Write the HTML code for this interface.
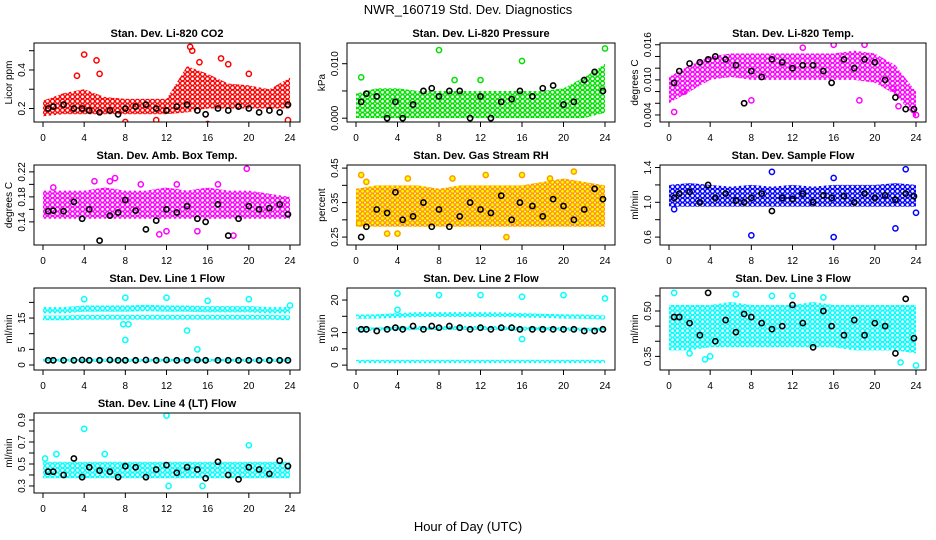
<!DOCTYPE html>
<html><head><meta charset="utf-8"><style>
html,body{margin:0;padding:0;background:#fff}
svg{display:block;font-family:"Liberation Sans",sans-serif}
</style></head><body>
<svg id="chart" width="936" height="540" viewBox="0 0 936 540">
<defs id="defs"></defs>
<text x="468" y="14" font-size="13" text-anchor="middle">NWR_160719  Std. Dev. Diagnostics</text>
<text x="468" y="531" font-size="13" text-anchor="middle">Hour of Day (UTC)</text>
</svg>
<script>
const blackHours=[0.5,1,2,3,3.8,4.5,5.5,6.5,7.3,8,9,10,11,12,13,14,15,15.8,17,18,19,20,21,22,23,23.8];
const bandHours=[0,2,4,6,8,10,12,14,16,18,20,22,24];
const xTicks=[0,4,8,12,16,20,24];

// CO2
const co2Lo=[0.16,0.17,0.17,0.17,0.17,0.17,0.17,0.18,0.2,0.2,0.2,0.2,0.2];
const co2Hi=[0.24,0.28,0.30,0.26,0.25,0.25,0.25,0.42,0.38,0.33,0.32,0.30,0.36];
const co2OutX=[2.7,3.3,4,5.2,5.5,8,11,14,14.3,14.5,15.2,16,17.3,18,20,23.6,23.8];
const co2OutY=[0.58,0.37,0.48,0.45,0.38,0.13,0.14,0.58,0.52,0.5,0.44,0.12,0.46,0.43,0.38,0.56,0.14];
const co2Black=[0.2,0.21,0.22,0.2,0.2,0.19,0.18,0.19,0.17,0.2,0.21,0.22,0.2,0.19,0.21,0.22,0.19,0.17,0.2,0.19,0.21,0.2,0.18,0.19,0.18,0.22];
// Pressure
const prLo=[0,0,0,0,0,0,0,0,0,0,0,0,0.001];
const prHi=[0.0045,0.0055,0.0055,0.005,0.005,0.005,0.005,0.005,0.005,0.005,0.0055,0.0075,0.010];
const prOutX=[8,16,24,0.5,9.5,12];
const prOutY=[0.0125,0.0105,0.0128,0.0075,0.007,0.007];
const prBlack=[0.003,0.0045,0.004,0,0.003,0,0.0025,0.005,0.0055,0.004,0.005,0.005,0,0.004,0,0.003,0.0035,0.005,0.004,0.0055,0.006,0.0025,0.003,0.007,0.0085,0.005];
// Temp
const tLo=[0.006,0.008,0.010,0.0105,0.010,0.010,0.010,0.010,0.010,0.010,0.0095,0.0075,0.0035];
const tHi=[0.0105,0.0125,0.014,0.0145,0.0145,0.0145,0.0145,0.0145,0.0145,0.015,0.0145,0.0125,0.008];
const tOutX=[0.5,1.5,7.3,8,13,16,18.5,19,21.8,22.3,24];
const tOutY=[0.0045,0.008,0.006,0.0065,0.0155,0.016,0.0065,0.016,0.0085,0.0055,0.004];
const tBlack=[0.0095,0.0115,0.0128,0.013,0.0135,0.014,0.0135,0.0125,0.006,0.0115,0.0105,0.0135,0.013,0.012,0.0125,0.0125,0.0115,0.0095,0.0135,0.012,0.0135,0.013,0.01,0.007,0.005,0.005];
// Amb box
const abLo=[0.145,0.145,0.145,0.145,0.145,0.145,0.145,0.145,0.145,0.145,0.145,0.145,0.145];
const abHi=[0.19,0.19,0.19,0.195,0.19,0.19,0.195,0.19,0.195,0.19,0.19,0.185,0.18];
const abOutX=[5,6.5,7,9.5,11.3,13,15,17,19.8,1,12,18.5];
const abOutY=[0.205,0.205,0.21,0.2,0.12,0.2,0.125,0.2,0.225,0.195,0.125,0.118];
const abBlack=[0.157,0.158,0.157,0.172,0.145,0.16,0.11,0.15,0.155,0.175,0.158,0.128,0.142,0.16,0.155,0.165,0.145,0.14,0.168,0.118,0.145,0.165,0.16,0.162,0.168,0.152];
// RH
const rhLo=[0.28,0.28,0.28,0.28,0.28,0.28,0.28,0.28,0.28,0.28,0.28,0.28,0.28];
const rhHi=[0.39,0.40,0.40,0.40,0.39,0.40,0.40,0.40,0.40,0.41,0.42,0.41,0.40];
const rhOutX=[0.5,1,4,5,9.3,12.5,14.5,16,18.7,21,0.3,3];
const rhOutY=[0.43,0.41,0.26,0.42,0.42,0.43,0.25,0.43,0.42,0.44,0.29,0.26];
const rhBlack=[0.25,0.28,0.33,0.32,0.38,0.3,0.31,0.35,0.28,0.33,0.28,0.31,0.35,0.33,0.32,0.37,0.3,0.35,0.34,0.31,0.36,0.34,0.3,0.33,0.39,0.36];
// Sample flow
const sfLo=[0.95,0.95,0.95,0.95,0.95,0.95,0.95,0.95,0.95,0.95,0.95,0.95,0.95];
const sfHi=[1.2,1.22,1.2,1.18,1.2,1.18,1.2,1.18,1.2,1.2,1.2,1.22,1.2];
const sfOutX=[8,10,16,22,23,24,0.5,16];
const sfOutY=[0.62,1.35,0.6,0.7,1.38,0.88,0.92,1.28];
const sfBlack=[1.05,1.1,1.12,1.0,1.2,1.05,1.1,1.02,1.0,1.05,1.1,0.9,1.05,1.04,1.1,1.0,1.08,1.05,1.07,1.0,1.1,1.05,1.08,1.03,1.1,1.07];
// Line 1
const l1UpLo=[16.5,16.5,17,17,17,17.2,17,17,16.8,16.8,16.8,16.5,16.5];
const l1UpHi=[18.5,18.5,19,19,19,19.2,19,19,18.8,18.8,18.8,18.5,18.5];
const l1MidLo=[14.3,14.3,14.5,14.5,14.5,14.5,14.5,14.5,14.5,14.5,14.5,14.5,14.3];
const l1MidHi=[15.8,15.8,16,16,16,16,16,16,16,16,16,16,15.8];
const l1BotLo=[1,1,1,1,1,1,1,1,1,1,1,1,1];
const l1BotHi=[2,2,2,2,2,2,2,2,2,2,2,2,2];
const l1OutX=[4,8,12,16,20,24,8,8.3,14,15,7.8];
const l1OutY=[21,21.5,21.5,20.5,21,19,8,13,11,5,13];
const l1Black=[1.5,1.5,1.5,1.5,1.6,1.5,1.5,1.6,1.5,1.5,1.5,1.6,1.5,1.6,1.5,1.5,1.6,1.5,1.5,1.5,1.5,1.5,1.5,1.5,1.5,1.5];
// Line 2
const l2UpLo=[14.2,14.3,14.5,14.8,14.8,14.8,14.8,14.8,14.6,14.5,14.3,14.2,14];
const l2UpHi=[15.5,15.6,16,16.3,16.3,16.3,16.3,16.2,16,15.8,15.6,15.5,15.3];
const l2MidLo=[10.5,10.5,10.6,10.8,10.8,10.8,10.8,10.8,10.6,10.6,10.5,10.4,10.4];
const l2MidHi=[11.6,11.6,11.8,12,12,12,12,12,11.8,11.8,11.6,11.5,11.5];
const l2BotLo=[0.6,0.6,0.6,0.6,0.6,0.6,0.6,0.6,0.6,0.6,0.6,0.6,0.6];
const l2BotHi=[1.6,1.6,1.6,1.6,1.6,1.6,1.6,1.6,1.6,1.6,1.6,1.6,1.6];
const l2OutX=[4,8,12,16,20,24,16,4];
const l2OutY=[22,21.5,21.5,21,21.5,20.5,8,17];
const l2Black=[11,11,10.5,11,11.5,11,12,11,12,11.5,12,11.5,11,11.5,11,11.5,11.5,11,11,11,11,11,11,10.5,10.5,11];
// Line 3
const l3Lo=[0.37,0.37,0.38,0.38,0.38,0.38,0.38,0.38,0.38,0.37,0.37,0.37,0.36];
const l3Hi=[0.52,0.52,0.52,0.53,0.52,0.52,0.52,0.53,0.52,0.52,0.52,0.52,0.52];
const l3OutX=[0.5,3.5,4,6.5,12,15,16.5,16.8,22.5,24,2,10];
const l3OutY=[0.56,0.34,0.35,0.555,0.55,0.545,0.59,0.6,0.33,0.32,0.36,0.55];
const l3Black=[0.48,0.48,0.46,0.42,0.56,0.4,0.47,0.43,0.49,0.48,0.46,0.44,0.45,0.52,0.46,0.38,0.5,0.45,0.42,0.47,0.42,0.46,0.45,0.36,0.54,0.41];
// Line 4
const l4Lo=[0.37,0.37,0.37,0.37,0.37,0.37,0.37,0.37,0.37,0.37,0.37,0.37,0.37];
const l4Hi=[0.52,0.52,0.52,0.52,0.52,0.52,0.52,0.52,0.52,0.52,0.52,0.52,0.52];
const l4OutX=[4,12,20,1.3,6,15.5,12.2,0.2];
const l4OutY=[0.82,0.94,0.67,0.59,0.59,0.3,0.3,0.55];
const l4Black=[0.43,0.43,0.4,0.55,0.38,0.47,0.44,0.43,0.38,0.48,0.47,0.38,0.45,0.49,0.42,0.47,0.45,0.37,0.52,0.4,0.36,0.47,0.45,0.41,0.53,0.48];

const cols=[[34,300],[347,615],[660,926]];
const rows=[[43,122],[165,245],[288,370],[413,493]];
const panels=[
 {name:'co2',title:'Stan. Dev. Li-820 CO2',ylab:'Licor ppm',c:0,r:0,ymin:0.13,ymax:0.54,ticks:[0.2,0.3,0.4,0.5],labels:['0.2','','0.4',''],col:'#ff0000',fill:'none',bands:[[co2Lo,co2Hi]],ox:co2OutX,oy:co2OutY,blk:co2Black},
 {name:'pressure',title:'Stan. Dev. Li-820 Pressure',ylab:'kPa',c:1,r:0,ymin:-0.0007,ymax:0.0138,ticks:[0,0.005,0.010],labels:['0.000','','0.010'],col:'#00e000',fill:'none',bands:[[prLo,prHi]],ox:prOutX,oy:prOutY,blk:prBlack},
 {name:'temp',title:'Stan. Dev. Li-820 Temp.',ylab:'degrees C',c:2,r:0,ymin:0.0028,ymax:0.0163,ticks:[0.004,0.006,0.008,0.010,0.012,0.014,0.016],labels:['0.004','','','0.010','','','0.016'],col:'#ff00ff',fill:'none',bands:[[tLo,tHi]],ox:tOutX,oy:tOutY,blk:tBlack},
 {name:'amb-box',title:'Stan. Dev. Amb. Box Temp.',ylab:'degrees C',c:0,r:1,ymin:0.103,ymax:0.231,ticks:[0.14,0.16,0.18,0.20,0.22],labels:['0.14','','0.18','','0.22'],col:'#ff00ff',fill:'none',bands:[[abLo,abHi]],ox:abOutX,oy:abOutY,blk:abBlack},
 {name:'rh',title:'Stan. Dev. Gas Stream RH',ylab:'percent',c:1,r:1,ymin:0.227,ymax:0.459,ticks:[0.25,0.30,0.35,0.40,0.45],labels:['0.25','','0.35','','0.45'],col:'#ff9900',fill:'#ffff00',bands:[[rhLo,rhHi]],ox:rhOutX,oy:rhOutY,blk:rhBlack},
 {name:'sample-flow',title:'Stan. Dev. Sample Flow',ylab:'ml/min',c:2,r:1,ymin:0.509,ymax:1.429,ticks:[0.6,0.8,1.0,1.2,1.4],labels:['0.6','','1.0','','1.4'],col:'#0000ff',fill:'none',bands:[[sfLo,sfHi]],ox:sfOutX,oy:sfOutY,blk:sfBlack},
 {name:'line1',title:'Stan. Dev. Line 1 Flow',ylab:'ml/min',c:0,r:2,ymin:-1.6,ymax:24.6,ticks:[0,5,10,15,20],labels:['0','5','','15',''],col:'#00ffff',fill:'none',bands:[[l1UpLo,l1UpHi],[l1MidLo,l1MidHi],[l1BotLo,l1BotHi]],ox:l1OutX,oy:l1OutY,blk:l1Black},
 {name:'line2',title:'Stan. Dev. Line 2 Flow',ylab:'ml/min',c:1,r:2,ymin:-1.5,ymax:23.7,ticks:[0,5,10,15,20],labels:['0','5','10','','20'],col:'#00ffff',fill:'none',bands:[[l2UpLo,l2UpHi],[l2MidLo,l2MidHi],[l2BotLo,l2BotHi]],ox:l2OutX,oy:l2OutY,blk:l2Black},
 {name:'line3',title:'Stan. Dev. Line 3 Flow',ylab:'ml/min',c:2,r:2,ymin:0.305,ymax:0.576,ticks:[0.35,0.40,0.45,0.50,0.55],labels:['0.35','','','0.50',''],col:'#00ffff',fill:'none',bands:[[l3Lo,l3Hi]],ox:l3OutX,oy:l3OutY,blk:l3Black},
 {name:'line4',title:'Stan. Dev. Line 4 (LT) Flow',ylab:'ml/min',c:0,r:3,ymin:0.236,ymax:0.964,ticks:[0.3,0.4,0.5,0.6,0.7,0.8,0.9],labels:['0.3','','0.5','','0.7','','0.9'],col:'#00ffff',fill:'none',bands:[[l4Lo,l4Hi]],ox:l4OutX,oy:l4OutY,blk:l4Black}
];
const NS='http://www.w3.org/2000/svg';
const svg=document.getElementById('chart');
const defs=document.getElementById('defs');
function mk(tag,at,parent){const e=document.createElementNS(NS,tag);for(const k in at)e.setAttribute(k,at[k]);(parent||svg).appendChild(e);return e;}
panels.forEach((p,i)=>{
  const [x0,x1]=cols[p.c],[y0,y1]=rows[p.r];
  const sx=h=>x0+9+h*(x1-x0-19)/24;
  const sy=v=>y1-(v-p.ymin)/(p.ymax-p.ymin)*(y1-y0);
  const g=mk('g',{});
  
  
  const pid='pat'+i;
  const pat=mk('pattern',{id:pid,width:5,height:4.5,patternUnits:'userSpaceOnUse'},defs);
  mk('circle',{cx:2.5,cy:2.25,r:2,fill:p.fill,stroke:p.col,'stroke-width':1.3},pat);
  const clip=mk('clipPath',{id:'clip'+i},defs);
  mk('rect',{x:x0,y:y0,width:x1-x0,height:y1-y0},clip);
  const inner=mk('g',{'clip-path':'url(#clip'+i+')'},g);
  p.bands.forEach(([lo,hi])=>{
    let d='';
    bandHours.forEach((h,k)=>{d+=(k?'L':'M')+sx(h)+','+sy(hi[k]);});
    for(let k=bandHours.length-1;k>=0;k--)d+='L'+sx(bandHours[k])+','+sy(lo[k]);
    const band=mk('path',{d:d+'Z',fill:'url(#'+pid+')',stroke:'none'},inner);
    
    
  });
  p.ox.forEach((h,k)=>{
    const c=mk('circle',{cx:sx(h),cy:sy(p.oy[k]),r:2.6,fill:p.fill,stroke:p.col,'stroke-width':1.5},inner);
    
    
  });
  blackHours.forEach((h,k)=>{
    const c=mk('circle',{cx:sx(h),cy:sy(p.blk[k]),r:2.6,fill:'none',stroke:'#000','stroke-width':1.6},inner);
    
    
  });
  const box=mk('rect',{x:x0,y:y0,width:x1-x0,height:y1-y0,fill:'none',stroke:'#000','stroke-width':1},g);
  
  
  const t=mk('text',{x:(x0+x1)/2,y:y0-6,'font-size':11,'font-weight':'bold','text-anchor':'middle'},g);
  t.textContent=p.title;
  
  
  mk('line',{x1:sx(0),x2:sx(24),y1:y1,y2:y1,stroke:'#000'},g);
  xTicks.forEach(h=>{
    mk('line',{x1:sx(h),x2:sx(h),y1:y1,y2:y1+5,stroke:'#000'},g);
    const l=mk('text',{x:sx(h),y:y1+19,'font-size':10,'text-anchor':'middle'},g);
    l.textContent=h;
    
    
  });
  p.ticks.forEach((v,k)=>{
    const y=sy(v);
    mk('line',{x1:x0-5,x2:x0,y1:y,y2:y,stroke:'#000'},g);
    if(p.labels[k]){
      const l=mk('text',{x:x0-9,y:y,'font-size':10,'text-anchor':'middle',transform:'rotate(-90 '+(x0-9)+' '+y+')'},g);
      l.textContent=p.labels[k];
      
      
    }
  });
  const yl=mk('text',{x:x0-22,y:(y0+y1)/2,'font-size':10,'text-anchor':'middle',transform:'rotate(-90 '+(x0-22)+' '+((y0+y1)/2)+')'},g);
  yl.textContent=p.ylab;
  
  
});
</script>
</body></html>
